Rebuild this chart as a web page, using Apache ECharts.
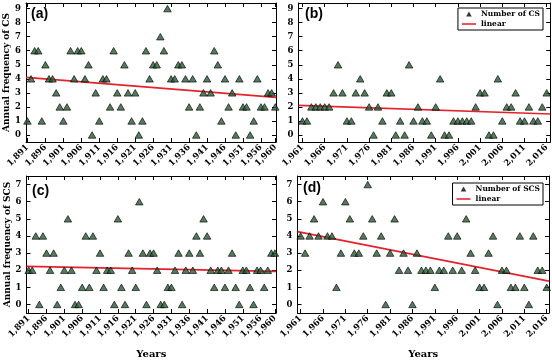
<!DOCTYPE html>
<html><head><meta charset="utf-8">
<script src="https://cdn.jsdelivr.net/npm/echarts@6/dist/echarts.min.js"></script>
<style>html,body{margin:0;padding:0;background:#fff}#c{width:552px;height:360px}</style>
</head><body><div id="c"></div>
<script>
// ---- data ----
const startEarly = 1891, startLate = 1961;
const csEarly = [1,4,6,6,1,5,4,4,3,2, 1,2,6,4,6,6,4,5,0,3, 1,4,4,2,6,3,2,5,3,1, 3,0,1,6,4,5,5,7,6,9,
                 4,4,5,5,4,2,4,0,2,3, 4,3,6,5,1,4,2,3,0,4, 2,2,0,1,4,2,2,3,3,2];
const csLate  = [1,1,2,2,2,2,2,3,5,3, 1,1,3,4,3,2,0,2,1,3, 3,0,1,0,5,1,2,1,1,0, 2,4,0,0,1,1,1,1,1,2,
                 3,3,0,0,4,1,2,2,3,1, 1,2,1,1,2,3];
const scsEarly = [2,2,4,0,4,3,2,3,0,1, 2,5,2,0,0,1,4,1,4,2, 3,1,2,2,0,5,1,0,3,2, 1,6,3,0,3,3,2,0,0,1,
                  1,2,3,0,2,3,2,4,3,5, 4,2,1,2,2,1,2,3,1,0, 2,2,1,0,2,2,1,2,3,3];
const scsLate  = [4,3,4,5,4,6,4,4,1,3, 6,5,3,3,4,7,5,3,4,0, 3,5,2,3,2,0,3,2,2,2, 1,2,2,4,2,4,2,5,3,2,
                  1,1,3,4,0,2,2,1,1,4, 1,0,4,2,2,1];
// linear trend lines: [year, value] at both ends
const trendA = [[1890.6, 4.10], [1960.2, 2.68]];
const trendB = [[1960.1, 2.11], [2016.8, 1.49]];
const trendC = [[1890.4, 2.22], [1960.3, 1.93]];
const trendD = [[1960.3, 4.25], [2016.5, 1.36]];
// tick labels
const xTicksEarly = [1891,1896,1901,1906,1911,1916,1921,1926,1931,1936,1941,1946,1951,1956,1960];
const xTicksLate  = [1961,1966,1971,1976,1981,1986,1991,1996,2001,2006,2011,2016];
const yTicksCS  = [0,1,2,3,4,5,6,7,8,9];
const yTicksSCS = [0,1,2,3,4,5,6,7];

function pts(start, arr){ return arr.map((v,i)=>[start+i, v]); }

const SERIF = '"DejaVu Serif", serif';
const panels = [
  {grid:{left:26, top:3, width:250, height:139}, xMin:1890.6, xMax:1960.2, yMin:-0.5, yMax:9.4,
   xt:xTicksEarly, yt:yTicksCS, data:pts(startEarly, csEarly), trend:trendA, yName:'Annual frequency of CS', xName:'', name:'Number of CS'},
  {grid:{left:298.5, top:3, width:252, height:139}, xMin:1960.1, xMax:2016.8, yMin:-0.5, yMax:9.4,
   xt:xTicksLate, yt:yTicksCS, data:pts(startLate, csLate), trend:trendB, yName:'', xName:'', name:'Number of CS'},
  {grid:{left:26.5, top:176, width:249.5, height:140.5}, xMin:1890.4, xMax:1960.3, yMin:-0.5, yMax:7.5,
   xt:xTicksEarly, yt:yTicksSCS, data:pts(startEarly, scsEarly), trend:trendC, yName:'Annual frequency of SCS', xName:'Years', name:'Number of SCS'},
  {grid:{left:297.5, top:176, width:253, height:140.5}, xMin:1960.3, xMax:2016.5, yMin:-0.5, yMax:7.5,
   xt:xTicksLate, yt:yTicksSCS, data:pts(startLate, scsLate), trend:trendD, yName:'', xName:'Years', name:'Number of SCS'}
];

const grid=[], xAxis=[], yAxis=[], series=[];
const axisLine = {show:true, onZero:false, lineStyle:{color:'#000', width:1}};
panels.forEach((p,g)=>{
  grid.push(p.grid);
  const xi = xAxis.length, yi = yAxis.length;
  xAxis.push({type:'value', gridIndex:g, min:p.xMin, max:p.xMax, position:'bottom', axisLine,
    axisTick:{show:true, inside:true, length:4, customValues:p.xt, lineStyle:{color:'#000'}},
    axisLabel:{show:true, rotate:45, margin:4, customValues:p.xt, fontFamily:SERIF, fontWeight:'bold', fontSize:8.5, color:'#000'},
    splitLine:{show:false}, name:p.xName, nameLocation:'middle', nameGap:36,
    nameTextStyle:{fontFamily:SERIF, fontWeight:'bold', fontSize:10, color:'#000'}});
  xAxis.push({type:'value', gridIndex:g, min:p.xMin, max:p.xMax, position:'top', axisLine,
    axisTick:{show:true, inside:true, length:4, customValues:p.xt, lineStyle:{color:'#000'}},
    axisLabel:{show:false}, splitLine:{show:false}});
  yAxis.push({type:'value', gridIndex:g, min:p.yMin, max:p.yMax, position:'left', axisLine,
    axisTick:{show:true, inside:true, length:4, customValues:p.yt, lineStyle:{color:'#000'}},
    axisLabel:{show:true, margin:5, customValues:p.yt, fontFamily:SERIF, fontWeight:'bold', fontSize:8.5, color:'#000'},
    splitLine:{show:false}, name:p.yName, nameLocation:'middle', nameGap:14, nameRotate:90,
    nameTextStyle:{fontFamily:SERIF, fontWeight:'bold', fontSize:9, color:'#000'}});
  yAxis.push({type:'value', gridIndex:g, min:p.yMin, max:p.yMax, position:'right', axisLine,
    axisTick:{show:true, inside:true, length:4, customValues:p.yt, lineStyle:{color:'#000'}},
    axisLabel:{show:false}, splitLine:{show:false}});
  series.push({type:'line', name:'linear', xAxisIndex:xi, yAxisIndex:yi, data:p.trend, symbol:'none',
    color:'#e3232c', lineStyle:{color:'#e3232c', width:1.6}, z:2, silent:true});
  series.push({type:'scatter', name:p.name, xAxisIndex:xi, yAxisIndex:yi, data:p.data,
    symbol:'triangle', symbolSize:[7.5,6.5], color:'#2b5a36',
    itemStyle:{color:'#2b5a36', borderColor:'#000', borderWidth:0.8}, z:3, silent:true});
});

const triPath = 'path://M5,0L10,9L0,9Z';
const linePath = 'path://M0,0L20,0L20,2.2L0,2.2Z';
function legendAt(top, name){
  return {orient:'vertical', right:9, top:top, borderColor:'#000', borderWidth:1, borderRadius:0,
    padding:[2,3,2,4], itemGap:2, itemWidth:14, itemHeight:5, backgroundColor:'#fff',
    data:[{name:name, icon:triPath, itemStyle:{color:'#000', borderWidth:0}}, {name:'linear', icon:linePath}],
    textStyle:{fontFamily:SERIF, fontWeight:'bold', fontSize:7.5, color:'#000'},
    selectedMode:false};
}

const labelStyle = {fontFamily:'"Liberation Sans", Arial, sans-serif', fontWeight:'bold', fontSize:14, color:'#000'};
const option = {
  animation:false, backgroundColor:'#fff',
  grid, xAxis, yAxis, series,
  legend:[legendAt(8,'Number of CS'), legendAt(183,'Number of SCS')],
  title:[
    {text:'(a)', left:31, top:7, textStyle:labelStyle, padding:0},
    {text:'(b)', left:305, top:7, textStyle:labelStyle, padding:0},
    {text:'(c)', left:32, top:184, textStyle:labelStyle, padding:0},
    {text:'(d)', left:303, top:181, textStyle:labelStyle, padding:0}
  ]
};
const chart = echarts.init(document.getElementById('c'), null, {renderer:'canvas'});
chart.setOption(option);
</script></body></html>
